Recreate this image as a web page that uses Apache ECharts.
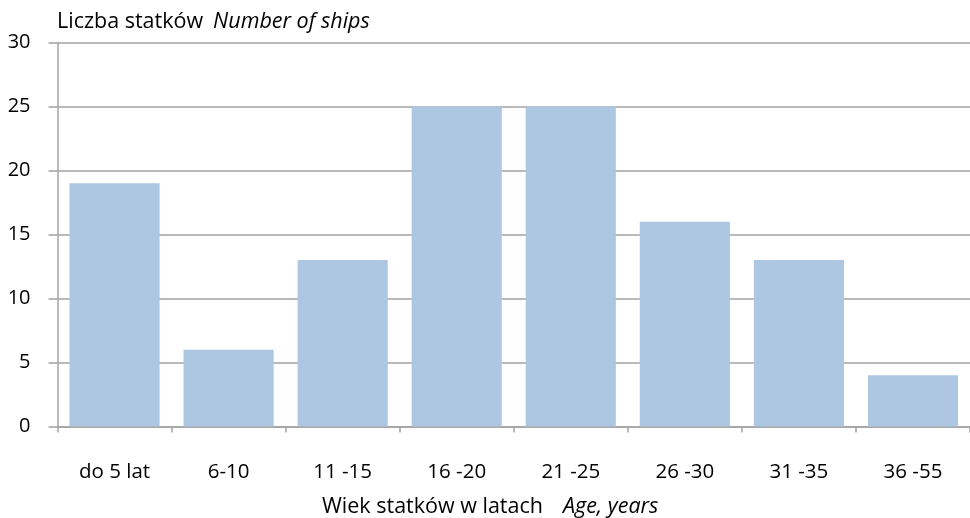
<!DOCTYPE html>
<html>
<head>
<meta charset="utf-8">
<script src="https://cdn.jsdelivr.net/npm/echarts@6/dist/echarts.min.js"></script>
<style>
  html, body { margin: 0; padding: 0; background: #fff; }
  #chart { width: 970px; height: 518px; }
</style>
</head>
<body>
<div id="chart"></div>
<script>
// Age groups of ships (years) and number of ships in each group
const ageGroups = ['do 5 lat', '6-10', '11 -15', '16 -20', '21 -25', '26 -30', '31 -35', '36 -55'];
const shipCounts = [19, 6, 13, 25, 25, 16, 13, 4];
const yTicks = { min: 0, max: 30, step: 5 };

const FONT = '"Open Sans", "Liberation Sans", sans-serif';
const AXIS_GREY = '#a3a3a3';

const chart = echarts.init(document.getElementById('chart'), null, { renderer: 'canvas' });

// Bilingual captions: Polish upright, English italic
function caption(gap) {
  return {
    a: { fontFamily: FONT, fontSize: 21.5, lineHeight: 24, color: '#000', fontWeight: 'normal' },
    b: { fontFamily: FONT, fontSize: 21.5, lineHeight: 24, color: '#000', fontWeight: 'normal',
         fontStyle: 'italic', padding: [0, 0, 0, gap] }
  };
}

chart.setOption({
  animation: false,
  backgroundColor: '#ffffff',
  textStyle: { fontFamily: FONT },
  title: [
    {
      left: 57, top: 10, padding: 0,
      text: '{a|Liczba statków}{b|Number of ships}',
      textStyle: { fontWeight: 'normal', rich: caption(10) }
    },
    {
      left: 322, top: 495, padding: 0,
      text: '{a|Wiek statków w latach}{b|Age, years}',
      textStyle: { fontWeight: 'normal', rich: caption(20) }
    }
  ],
  grid: { left: 57.5, right: -1, top: 42.5, bottom: 91.5, containLabel: false },
  xAxis: {
    type: 'category',
    data: ageGroups,
    axisLine: { lineStyle: { color: AXIS_GREY, width: 1.5 } },
    axisTick: { show: true, length: 6, alignWithLabel: false, lineStyle: { color: AXIS_GREY, width: 1.5 } },
    axisLabel: { color: '#000', fontSize: 20.5, fontFamily: FONT, margin: 35 }
  },
  yAxis: {
    type: 'value',
    min: yTicks.min, max: yTicks.max, interval: yTicks.step,
    axisLine: { show: true, lineStyle: { color: AXIS_GREY, width: 1.5 } },
    axisTick: { show: true, length: 9, lineStyle: { color: AXIS_GREY, width: 1.5 } },
    splitLine: { show: true, lineStyle: { color: AXIS_GREY, width: 1.5 } },
    axisLabel: { color: '#000', fontSize: 20, fontFamily: FONT, margin: 27 }
  },
  series: [{
    type: 'bar',
    data: shipCounts,
    barCategoryGap: '21%',
    itemStyle: { color: '#adc6e2' }
  }]
});
</script>
</body>
</html>
